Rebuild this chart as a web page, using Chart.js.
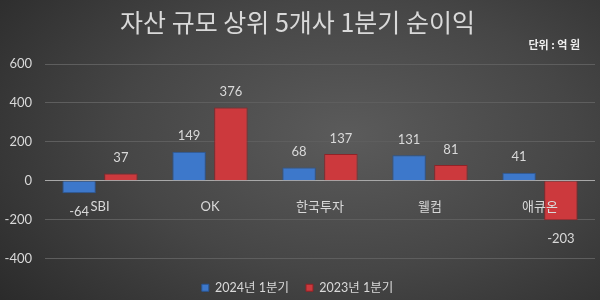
<!DOCTYPE html>
<html>
<head>
<meta charset="utf-8">
<script src="https://cdn.jsdelivr.net/npm/chart.js@4"></script>
<style>
  html, body { margin: 0; padding: 0; }
  body {
    width: 600px; height: 300px;
    background: radial-gradient(ellipse 75% 90% at 58% 45%, #5b5b5b 0%, #464646 50%, #2a2a2a 100%);
  }
</style>
</head>
<body>
<canvas id="profitChart" width="600" height="300"></canvas>
<script>
// 자산 규모 상위 5개사 1분기 순이익 (억 원)
const companies = ['SBI', 'OK', '한국투자', '웰컴', '애큐온'];
const profit2024 = [-64, 149, 68, 131, 41];
const profit2023 = [37, 376, 137, 81, -203];
const seriesNames = ['2024년 1분기', '2023년 1분기'];
const unitText = '단위 : 억 원';

const FONT = 'Lato, "Noto Sans CJK KR", sans-serif';
const KR_FONT = '"Noto Sans CJK KR", sans-serif';
const TEXT = '#d9d9d9';

// 막대 위/아래에 값 표시 + 단위 표시
const valueLabels = {
  id: 'valueLabels',
  afterDatasetsDraw(chart) {
    const ctx = chart.ctx;
    ctx.save();
    ctx.font = '13px ' + FONT;
    ctx.fillStyle = TEXT;
    ctx.textAlign = 'center';
    chart.data.datasets.forEach((ds, i) => {
      chart.getDatasetMeta(i).data.forEach((bar, j) => {
        const v = ds.data[j];
        if (v >= 0) {
          ctx.textBaseline = 'bottom';
          ctx.fillText(v, bar.x, bar.y - 9);
        } else {
          ctx.textBaseline = 'top';
          ctx.fillText(v, bar.x, bar.y + 12);
        }
      });
    });
    ctx.restore();
  },
  afterDraw(chart) {
    const ctx = chart.ctx;
    ctx.save();
    ctx.font = 'bold 11px ' + KR_FONT;
    ctx.fillStyle = '#eeeeee';
    ctx.textAlign = 'right';
    ctx.textBaseline = 'middle';
    ctx.fillText(unitText, 580, 45);
    ctx.restore();
  }
};

const chart = new Chart(document.getElementById('profitChart'), {
  type: 'bar',
  data: {
    labels: companies,
    datasets: [{
      label: seriesNames[0],
      data: profit2024,
      backgroundColor: '#3d78cb',
      borderColor: '#2a5796',
      borderWidth: 1
    }, {
      label: seriesNames[1],
      data: profit2023,
      backgroundColor: '#cc393d',
      borderColor: '#902327',
      borderWidth: 1
    }]
  },
  options: {
    responsive: false,
    animation: false,
    layout: { padding: { left: 0, right: 5, bottom: -4 } },
    datasets: {
      bar: { categoryPercentage: 0.76, barPercentage: 0.8 }
    },
    scales: {
      x: {
        position: { y: 0 },
        grid: { display: false },
        border: { display: false },
        ticks: { z: 1, color: TEXT, font: { family: FONT, size: 13 }, padding: 10 }
      },
      y: {
        min: -400,
        max: 600,
        afterFit: s => { s.width = 45; },
        ticks: { stepSize: 200, color: TEXT, font: { family: FONT, size: 13 }, padding: 13 },
        grid: {
          drawTicks: false,
          color: c => c.tick && c.tick.value === 0 ? '#a8a8a8' : '#5e5e5e'
        },
        border: { display: false }
      }
    },
    plugins: {
      title: {
        display: true,
        text: '자산 규모 상위 5개사 1분기 순이익',
        color: TEXT,
        font: { family: KR_FONT, size: 25, weight: 'normal' },
        padding: { top: 7, bottom: 27 }
      },
      legend: {
        position: 'bottom',
        title: { display: true, text: '', font: { size: 5, lineHeight: 1.2 }, padding: 0 },
        labels: {
          color: TEXT,
          font: { family: FONT, size: 12.5 },
          boxWidth: 7,
          boxHeight: 7,
          padding: 17
        }
      },
      tooltip: { enabled: false }
    }
  },
  plugins: [valueLabels]
});
</script>
</body>
</html>
